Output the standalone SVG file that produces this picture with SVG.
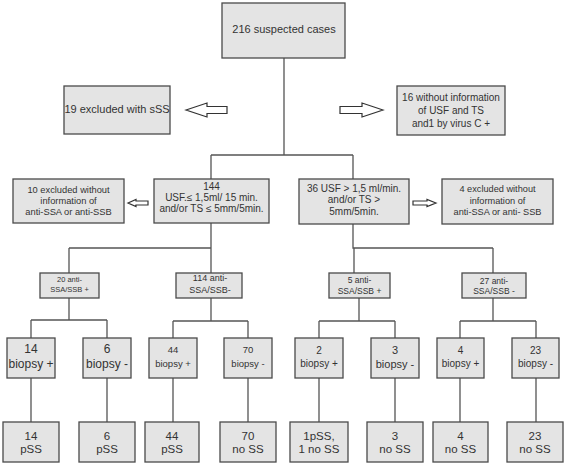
<svg xmlns="http://www.w3.org/2000/svg" width="567" height="467" viewBox="0 0 567 467">
<style>
.bx{fill:#e4e4e4;stroke:#4a4a4a;stroke-width:1.3}
.t{font-family:"Liberation Sans",Arial,sans-serif;fill:#333;text-anchor:middle}
.ln{stroke:#555;stroke-width:1.3;fill:none}
.ar{fill:#fff;stroke:#333;stroke-width:1.2}
</style>
<rect width="567" height="467" fill="#fff"/>
<g id="connectors">
<path class="ln" d="M284,58V155M211,155H353M211,155V179M353,155V179"/>
<path class="ln" d="M211,223V248M69,248H211M69,248V273M211,248V273"/>
<path class="ln" d="M353,224V248H493M354,248V273M493,248V273"/>
<path class="ln" d="M69,298V320M31,320H107M31,320V338M107,320V338"/>
<path class="ln" d="M211,298V321M173,321H248M173,321V338M248,321V338"/>
<path class="ln" d="M359,298V321M319,321H395M319,321V338M395,321V338"/>
<path class="ln" d="M493,298V321M460,321H536M460,321V338M536,321V338"/>
<path class="ln" d="M31,378V422M107,378V422M173,378V422M248,378V422M319,378V422M395,378V422M460,378V422M536,378V422"/>
<path class="ar" d="M186,110L207,103V106.5H227V113.5H207V117Z"/>
<path class="ar" d="M383,110L362,103V106.5H340V113.5H362V117Z"/>
<path class="ar" d="M128,203L136,199.5V201H148V205H136V206.5Z"/>
<path class="ar" d="M436,203L427,199.5V201H413V205H427V206.5Z"/>
</g>
<g id="n216"><rect class="bx" x="222" y="3" width="123" height="55"/><text class="t" x="284" y="33" font-size="11">216 suspected cases</text></g>
<g id="n19"><rect class="bx" x="64" y="86" width="106" height="48"/><text class="t" x="117" y="113" font-size="11">19 excluded with sSS</text></g>
<g id="n16"><rect class="bx" x="397" y="86" width="108" height="49"/><text class="t" font-size="10"><tspan x="451" y="100.5">16 without information</tspan><tspan x="451" y="113.5">of USF and TS</tspan><tspan x="451" y="126.5">and1 by virus C +</tspan></text></g>
<g id="n10"><rect class="bx" x="13" y="179" width="111" height="44"/><text class="t" font-size="9.3"><tspan x="68.5" y="192.5">10 excluded without</tspan><tspan x="68.5" y="203.5">information of</tspan><tspan x="68.5" y="214.5">anti-SSA or anti-SSB</tspan></text></g>
<g id="n144"><rect class="bx" x="154" y="179" width="115" height="44"/><text class="t" font-size="10"><tspan x="211.5" y="189.5">144</tspan><tspan x="211.5" y="200.5">USF.≤ 1,5ml/ 15 min.</tspan><tspan x="211.5" y="211.5">and/or TS ≤ 5mm/5min.</tspan></text></g>
<g id="n36"><rect class="bx" x="299" y="179" width="110" height="45"/><text class="t" font-size="10"><tspan x="354" y="191.5">36 USF &gt; 1,5 ml/min.</tspan><tspan x="354" y="203">and/or TS &gt;</tspan><tspan x="354" y="214.5">5mm/5min.</tspan></text></g>
<g id="n4x"><rect class="bx" x="442" y="179" width="111" height="45"/><text class="t" font-size="9.2"><tspan x="497.5" y="192">4 excluded without</tspan><tspan x="497.5" y="203.5">information of</tspan><tspan x="497.5" y="215">anti-SSA or anti- SSB</tspan></text></g>
<g id="n20"><rect class="bx" x="40" y="273" width="59" height="25"/><text class="t" font-size="7.5"><tspan x="69.5" y="282">20 anti-</tspan><tspan x="69.5" y="292">SSA/SSB +</tspan></text></g>
<g id="n114"><rect class="bx" x="176" y="273" width="66" height="25"/><text class="t" font-size="9"><tspan x="210" y="281">114 anti-</tspan><tspan x="210" y="293">SSA/SSB-</tspan></text></g>
<g id="n5"><rect class="bx" x="329" y="273" width="61" height="25"/><text class="t" font-size="8.5"><tspan x="359.5" y="283">5 anti-</tspan><tspan x="359.5" y="294">SSA/SSB +</tspan></text></g>
<g id="n27"><rect class="bx" x="462" y="273" width="64" height="25"/><text class="t" font-size="8.5"><tspan x="494" y="284">27 anti-</tspan><tspan x="494" y="294">SSA/SSB -</tspan></text></g>
<g id="b14"><rect class="bx" x="7" y="338" width="48" height="40"/><text class="t" font-size="12"><tspan x="31" y="353">14</tspan><tspan x="31" y="368">biopsy +</tspan></text></g>
<g id="b6"><rect class="bx" x="83" y="338" width="48" height="40"/><text class="t" font-size="12"><tspan x="107" y="353">6</tspan><tspan x="107" y="368">biopsy -</tspan></text></g>
<g id="b44"><rect class="bx" x="149" y="338" width="48" height="40"/><text class="t" font-size="9.5"><tspan x="173" y="352.5">44</tspan><tspan x="173" y="366.5">biopsy +</tspan></text></g>
<g id="b70"><rect class="bx" x="224" y="338" width="48" height="40"/><text class="t" font-size="9.5"><tspan x="248" y="352.5">70</tspan><tspan x="248" y="366.5">biopsy -</tspan></text></g>
<g id="b2"><rect class="bx" x="295" y="338" width="48" height="40"/><text class="t" font-size="10"><tspan x="319" y="353.5">2</tspan><tspan x="319" y="367">biopsy +</tspan></text></g>
<g id="b3"><rect class="bx" x="371" y="338" width="48" height="40"/><text class="t" font-size="11"><tspan x="395" y="353.5">3</tspan><tspan x="395" y="367.5">biopsy -</tspan></text></g>
<g id="b4"><rect class="bx" x="437" y="338" width="47" height="40"/><text class="t" font-size="10"><tspan x="460.5" y="353.5">4</tspan><tspan x="460.5" y="367">biopsy +</tspan></text></g>
<g id="b23"><rect class="bx" x="512" y="338" width="47" height="40"/><text class="t" font-size="10"><tspan x="535.5" y="353.5">23</tspan><tspan x="535.5" y="367">biopsy -</tspan></text></g>
<g id="r14"><rect class="bx" x="3" y="422" width="56" height="40"/><text class="t" font-size="11.5"><tspan x="31" y="440">14</tspan><tspan x="31" y="453">pSS</tspan></text></g>
<g id="r6"><rect class="bx" x="79" y="422" width="56" height="40"/><text class="t" font-size="11.5"><tspan x="107" y="440">6</tspan><tspan x="107" y="453">pSS</tspan></text></g>
<g id="r44"><rect class="bx" x="145" y="422" width="54" height="40"/><text class="t" font-size="11.5"><tspan x="172" y="440">44</tspan><tspan x="172" y="453">pSS</tspan></text></g>
<g id="r70"><rect class="bx" x="220" y="422" width="56" height="40"/><text class="t" font-size="11.5"><tspan x="248" y="440">70</tspan><tspan x="248" y="453">no SS</tspan></text></g>
<g id="r1"><rect class="bx" x="290" y="422" width="58" height="40"/><text class="t" font-size="11.5"><tspan x="319" y="440">1pSS,</tspan><tspan x="319" y="453">1 no SS</tspan></text></g>
<g id="r3"><rect class="bx" x="367" y="422" width="56" height="40"/><text class="t" font-size="11.5"><tspan x="395" y="440">3</tspan><tspan x="395" y="453">no SS</tspan></text></g>
<g id="r4"><rect class="bx" x="433" y="422" width="55" height="40"/><text class="t" font-size="11.5"><tspan x="460.5" y="440">4</tspan><tspan x="460.5" y="453">no SS</tspan></text></g>
<g id="r23"><rect class="bx" x="507" y="422" width="56" height="40"/><text class="t" font-size="11.5"><tspan x="535" y="440">23</tspan><tspan x="535" y="453">no SS</tspan></text></g>
</svg>
